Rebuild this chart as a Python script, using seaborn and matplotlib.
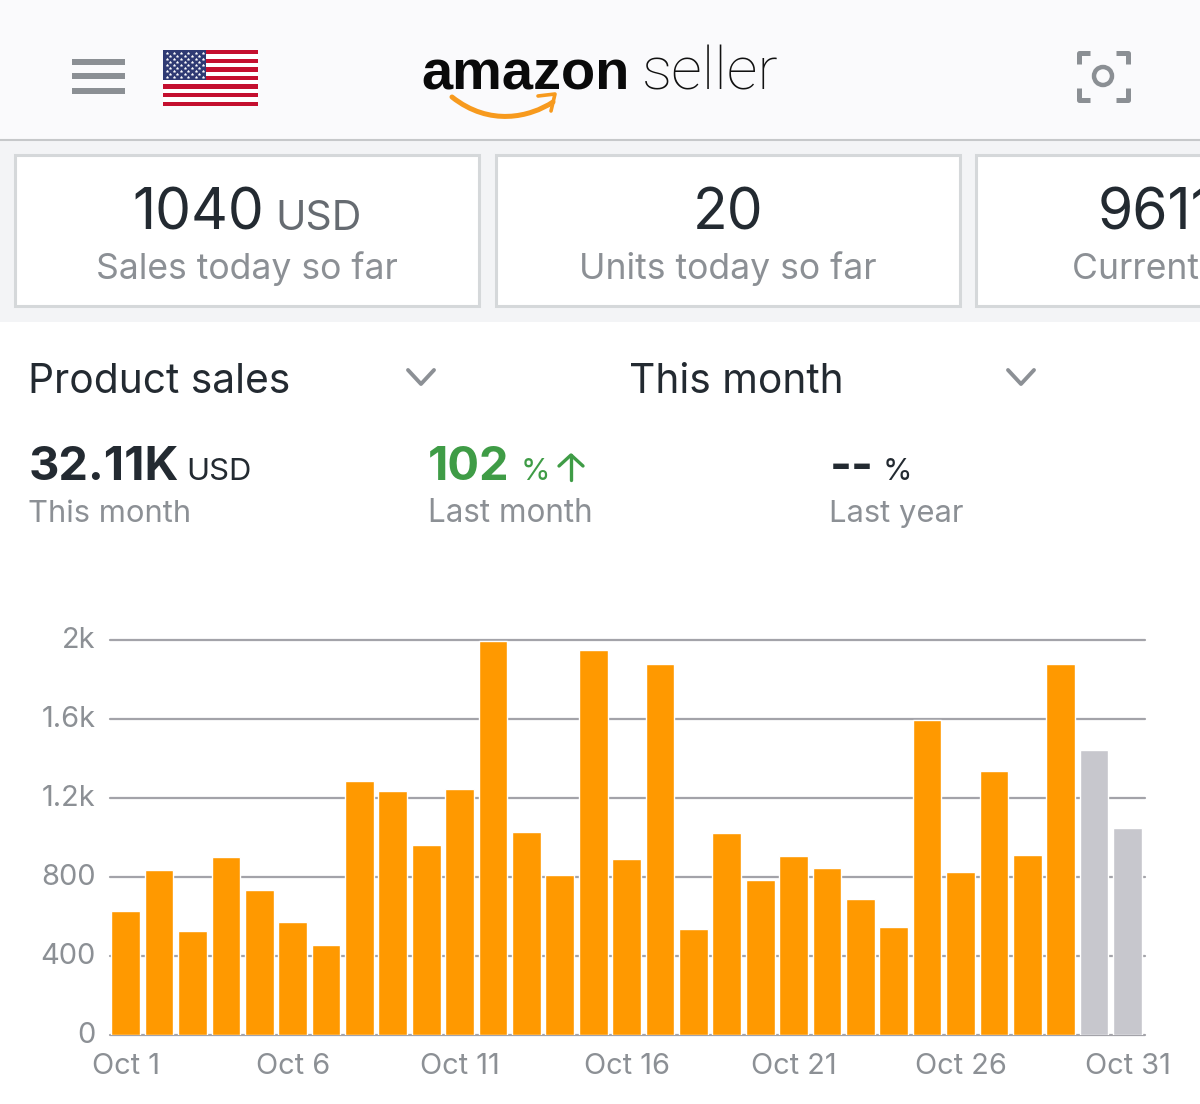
# Amazon Seller app screenshot - daily product sales for October
import pandas as pd
import seaborn as sns
import matplotlib.pyplot as plt
from matplotlib.patches import Rectangle, Circle, PathPatch
from matplotlib.path import Path
from matplotlib.transforms import ScaledTranslation

days = ["Oct %d" % d for d in range(1, 32)]
sales = [626, 832, 525, 900, 733, 571, 454, 1282, 1234, 958, 1244, 1993, 1026, 809, 1948, 890,
         1874, 535, 1021, 783, 905, 841, 687, 543, 1591, 824, 1335, 910, 1874, 1441, 1044]
status = ["actual"] * 29 + ["pending"] * 2
y_ticks = [0, 400, 800, 1200, 1600, 2000]
y_labels = ["0", "400", "800", "1.2k", "1.6k", "2k"]
x_ticks = [0, 5, 10, 15, 20, 25, 30]

ORANGE = "#ff9900"
PENDING = "#c7c7cd"
GRID = "#a3a3a9"
MUTED = "#8c9095"
DARK = "#232a31"
GREEN = "#3f9c46"

W, H = 1200, 1104

sns.set_style("white")
plt.rcParams["font.family"] = ["Inter", "DejaVu Sans"]


def px(size):
    # font size in pixels -> points at dpi 100
    return size * 72 / 100


fig = plt.figure(figsize=(W / 100, H / 100), dpi=100, facecolor="white")

# page chrome drawn in pixel coords
ui = fig.add_axes([0, 0, 1, 1])
ui.set_xlim(0, W)
ui.set_ylim(H, 0)
ui.axis("off")

ui.add_patch(Rectangle((0, 0), W, 140, fc="#fafafc", ec="none"))
ui.add_patch(Rectangle((0, 140), W, 182, fc="#f3f4f6", ec="none"))
ui.plot([0, W], [140, 140], color="#c6c8ca", lw=1.5)

# hamburger
for y in [61.5, 76, 90.5]:
    ui.add_patch(Rectangle((72, y - 3), 53, 6, fc="#8b8f94", ec="none"))

# flag
for i in range(13):
    color = "#c40f2f" if i % 2 == 0 else "white"
    ui.add_patch(Rectangle((163, 50 + i * 56 / 13), 95, 56 / 13, fc=color, ec="none"))
ui.add_patch(Rectangle((163, 50), 43, 30, fc="#2f3a73", ec="none"))
star_x = []
star_y = []
for row in range(9):
    n = 6 if row % 2 == 0 else 5
    for c in range(n):
        star_x.append(166.5 + c * 7.3 + (0 if row % 2 == 0 else 3.65))
        star_y.append(52.5 + row * 3.1)
ui.scatter(star_x, star_y, s=3.5, c="white", marker="*", linewidths=0.3)

# logo
ui.text(421, 90, "amazon", fontfamily=["Liberation Sans", "DejaVu Sans"], fontweight="bold",
        fontsize=px(56), color="#0a0a0a", va="baseline", ha="left")
ui.text(642, 90, "seller", fontfamily=["Roboto", "DejaVu Sans"], fontweight="light",
        fontsize=px(60.5), color="#111111", va="baseline", ha="left")
smile = Path([(452, 97), (490, 127), (530, 117), (553, 102)],
             [Path.MOVETO, Path.CURVE4, Path.CURVE4, Path.CURVE4])
ui.add_patch(PathPatch(smile, fc="none", ec="#f79a1e", lw=3.6, capstyle="round"))
ui.plot([538, 555, 551], [96, 94, 111], color="#f79a1e", lw=2.6, solid_capstyle="round")

# scan icon
for xs, ys in [([1078.5, 1078.5, 1090], [64, 52.5, 52.5]), ([1116, 1128, 1128], [52.5, 52.5, 64]),
               ([1078.5, 1078.5, 1090], [88, 100, 100]), ([1116, 1128, 1128], [100, 100, 88])]:
    ui.plot(xs, ys, color="#8b8f94", lw=3.6, solid_joinstyle="round", solid_capstyle="butt")
ui.add_patch(Circle((1103, 76), 9, fc="none", ec="#8b8f94", lw=3.2))

# cards
for x, w in [(15, 464), (496, 464), (976, 300)]:
    ui.add_patch(Rectangle((x, 155), w, 151, fc="white", ec="#d5d8da", lw=2.2))

ui.text(132.5, 230, "1040", fontsize=px(57), color=DARK, ha="left", va="baseline")
ui.text(275.5, 230, "USD", fontsize=px(41), color="#666b71", ha="left", va="baseline")
ui.text(247, 279, "Sales today so far", fontsize=px(35.6), color=MUTED, ha="center", va="baseline")
ui.text(728, 230, "20", fontsize=px(57), color=DARK, ha="center", va="baseline")
ui.text(728, 279, "Units today so far", fontsize=px(35.6), color=MUTED, ha="center", va="baseline")
ui.text(1098, 230, "9611", fontsize=px(57), color=DARK, ha="left", va="baseline")
ui.text(1072, 279, "Current balance", fontsize=px(35.6), color=MUTED, ha="left", va="baseline")

# dropdowns
ui.text(28, 393, "Product sales", fontsize=px(40.7), color=DARK, ha="left", va="baseline")
ui.text(629, 393, "This month", fontsize=px(40.7), color=DARK, ha="left", va="baseline")
for cx in [421, 1021]:
    ui.plot([cx - 13, cx, cx + 13], [370, 384, 370], color=MUTED, lw=2.8)

# summary row
ui.text(29, 480, "32.11K", fontsize=px(47), fontweight="bold", color=DARK, ha="left", va="baseline")
ui.text(186, 480, "USD", fontsize=px(31), color=DARK, ha="left", va="baseline")
ui.text(28.5, 522, "This month", fontsize=px(31), color=MUTED, ha="left", va="baseline")
ui.text(428, 480, "102", fontsize=px(47), fontweight="bold", color=GREEN, ha="left", va="baseline")
ui.text(521, 480, "%", fontsize=px(30), color=GREEN, ha="left", va="baseline")
ui.plot([571, 571], [455, 480], color=GREEN, lw=2.4)
ui.plot([559, 571, 583], [466, 455, 466], color=GREEN, lw=2.4)
ui.text(428, 522, "Last month", fontsize=px(31.5), color=MUTED, ha="left", va="baseline")
ui.text(830, 480, "--", fontsize=px(47), fontweight="bold", color=DARK, ha="left", va="baseline")
ui.text(883, 480, "%", fontsize=px(30), color=DARK, ha="left", va="baseline")
ui.text(829, 522, "Last year", fontsize=px(31), color=MUTED, ha="left", va="baseline")

# the bar chart
df = pd.DataFrame({"day": days, "sales": sales, "status": status})
ax = fig.add_axes([110 / W, 1 - 1034.5 / H, 1035 / W, 395 / H])
ax.patch.set_alpha(0)
sns.barplot(data=df, x="day", y="sales", hue="status", order=days, dodge=False, width=0.86,
            palette={"actual": ORANGE, "pending": PENDING}, legend=False, saturation=1, ax=ax)
ax.set_xlim(-0.47, 30.525)
ax.set_ylim(0, 2000)
ax.set_axisbelow(True)
ax.yaxis.grid(True, color=GRID, lw=1.6)
ax.xaxis.grid(False)
sns.despine(ax=ax, left=True, bottom=True)
ax.set_xlabel("")
ax.set_ylabel("")
ax.set_yticks(y_ticks, y_labels)
ax.set_xticks(x_ticks, [days[i] for i in x_ticks])
ax.tick_params(axis="y", length=0, pad=10.5, labelsize=px(29), labelcolor=MUTED)
ax.tick_params(axis="x", length=0, pad=13, labelsize=px(29), labelcolor=MUTED)
for line in ax.get_ygridlines():
    line.set_clip_on(False)
# y labels sit a little above their gridlines
up = ScaledTranslation(0, 2 / 100, fig.dpi_scale_trans)
for label in ax.get_yticklabels():
    label.set_transform(label.get_transform() + up)

fig.savefig("out.png", dpi=100)
